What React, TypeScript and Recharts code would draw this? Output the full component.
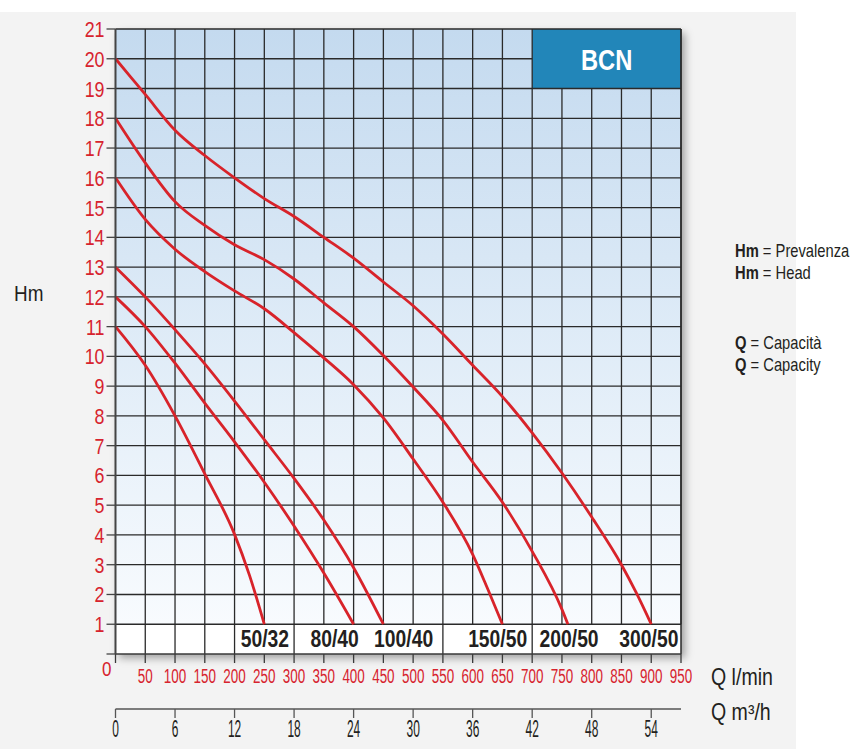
import {
  LineChart,
  Line,
  XAxis,
  YAxis,
  ReferenceLine,
  ReferenceArea,
  ReferenceDot,
} from "recharts";

// no narrow font installed, so Liberation Sans is squeezed horizontally
const FONT = "'Liberation Sans', Arial, sans-serif";
const RED = "#d7232e";
const INK = "#231f20";
const GRID = "#2a2a2a";
const CURVE = "#d8232a";

// axis ticks
const flowTicks = [
  0, 50, 100, 150, 200, 250, 300, 350, 400, 450, 500, 550, 600, 650, 700, 750,
  800, 850, 900, 950,
];
const m3Ticks = [0, 6, 12, 18, 24, 30, 36, 42, 48, 54];
const headTicks = [
  0, 1, 2, 3, 4, 5, 6, 7, 8, 9, 10, 11, 12, 13, 14, 15, 16, 17, 18, 19, 20, 21,
];

// pump curves, Q in l/min, H in m
const pumpNames = ["50/32", "80/40", "100/40", "150/50", "200/50", "300/50"];

const flow5032 = [0, 50, 100, 150, 200, 225, 250];
const head5032 = [11, 9.7, 8, 6.05, 4.02, 2.65, 1];

const flow8040 = [0, 50, 100, 150, 200, 250, 300, 350, 400];
const head8040 = [12, 11, 9.77, 8.43, 7.13, 5.77, 4.3, 2.72, 1];

const flow10040 = [0, 50, 100, 150, 200, 250, 300, 350, 400, 450];
const head10040 = [13, 12, 10.9, 9.75, 8.5, 7.2, 5.9, 4.5, 2.9, 1];

const flow15050 = [
  0, 50, 100, 150, 200, 250, 300, 350, 400, 450, 500, 550, 600, 625, 650,
];
const head15050 = [
  16, 14.6, 13.6, 12.85, 12.2, 11.6, 10.8, 9.95, 9.05, 7.93, 6.55, 5.1, 3.35,
  2.2, 1,
];

const flow20050 = [
  0, 50, 100, 150, 200, 250, 300, 350, 400, 450, 500, 550, 600, 650, 700, 750,
  760,
];
const head20050 = [
  18, 16.5, 15.2, 14.4, 13.75, 13.25, 12.6, 11.8, 11, 10.03, 8.97, 7.85, 6.45,
  5.1, 3.45, 1.5, 1,
];

const flow30050 = [
  0, 50, 100, 150, 200, 250, 300, 350, 400, 450, 500, 550, 600, 650, 700, 750,
  800, 850, 875, 900,
];
const head30050 = [
  20, 18.8, 17.6, 16.75, 16, 15.3, 14.7, 14, 13.3, 12.5, 11.7, 10.75, 9.7, 8.65,
  7.43, 6.08, 4.6, 3, 2.05, 1,
];

// where each pump name sits in the bottom strip
const labelFlow = [251, 368, 484, 642, 762, 896];
const labelHead = 0.5;

const flows = [flow5032, flow8040, flow10040, flow15050, flow20050, flow30050];
const heads = [head5032, head8040, head10040, head15050, head20050, head30050];

const series = pumpNames.map((name, i) => ({
  name,
  data: flows[i].map((q, j) => ({ q, h: heads[i][j] })),
}));

// the m3/h axis needs something bound to it before it draws its ticks
const m3Data = m3Ticks.map((m) => ({ q: m, h: null }));

// grid lines still visible in the white bottom strip
const stripLines = [50, 100, 150, 200, 300, 550, 700];

function Narrow({ x, y, sx = 0.82, size, fill = INK, anchor = "start", weight = 400, children }: any) {
  return (
    <g transform={`translate(${x},${y}) scale(${sx},1)`}>
      <text
        x={0}
        y={0}
        textAnchor={anchor}
        fontFamily={FONT}
        fontSize={size}
        fontWeight={weight}
        fill={fill}
      >
        {children}
      </text>
    </g>
  );
}

const FlowTick = (props: any) => {
  const { x, y, payload } = props;
  if (payload.value === 0) return <g />;
  return (
    <Narrow x={x} y={y + 18} sx={0.69} size={19.5} fill={RED} anchor="middle">
      {payload.value}
    </Narrow>
  );
};

const M3Tick = (props: any) => {
  const { x, y, payload } = props;
  return (
    <Narrow x={x} y={y + 17} sx={0.52} size={23} anchor="middle">
      {payload.value}
    </Narrow>
  );
};

const HeadTick = (props: any) => {
  const { x, y, payload } = props;
  if (payload.value === 0) {
    return (
      <Narrow x={x + 7} y={y + 22} sx={0.81} size={21} fill={RED} anchor="end">
        0
      </Narrow>
    );
  }
  return (
    <Narrow x={x} y={y + 8} sx={0.81} size={22} fill={RED} anchor="end">
      {payload.value}
    </Narrow>
  );
};

const PumpLabel = (props: any) => {
  const { viewBox, value } = props;
  const cx = viewBox.x + viewBox.width / 2;
  const cy = viewBox.y + viewBox.height / 2;
  return (
    <Narrow x={cx} y={cy + 8} sx={0.84} size={23} weight={700} anchor="middle">
      {value}
    </Narrow>
  );
};

const BoxLabel = (props: any) => {
  const { viewBox } = props;
  const cx = viewBox.x + viewBox.width / 2;
  const cy = viewBox.y + viewBox.height / 2;
  return (
    <Narrow x={cx} y={cy + 11} sx={0.79} size={30} weight={700} fill="#ffffff" anchor="middle">
      BCN
    </Narrow>
  );
};

export default function App() {
  return (
    <div
      style={{
        position: "absolute",
        left: 0,
        top: 0,
        width: 852,
        height: 749,
        background: "#fff",
        overflow: "hidden",
      }}
    >
      <div
        style={{
          position: "absolute",
          left: 0,
          top: 12,
          width: 796,
          height: 737,
          background: "#f3f3f3",
        }}
      />
      <div
        style={{
          position: "absolute",
          left: 115,
          top: 29,
          width: 566,
          height: 625,
          background: "#fff",
          boxShadow: "4px 4px 8px rgba(0,0,0,0.35)",
        }}
      />
      <svg width={0} height={0} style={{ position: "absolute" }}>
        <defs>
          <linearGradient id="plotBg" x1="0" y1="0" x2="0" y2="1">
            <stop offset="0%" stopColor="#c4daef" />
            <stop offset="50%" stopColor="#deebf7" />
            <stop offset="100%" stopColor="#f8fbfe" />
          </linearGradient>
        </defs>
      </svg>
      <div style={{ position: "absolute", left: 0, top: 0 }}>
        <LineChart
          width={852}
          height={749}
          margin={{ top: 29, right: 171, bottom: 10, left: 15.5 }}
        >
          <XAxis
            dataKey="q"
            type="number"
            domain={[0, 950]}
            ticks={flowTicks}
            interval={0}
            height={55}
            tickSize={9}
            tick={<FlowTick />}
            axisLine={{ stroke: "#3a3a3a", strokeWidth: 1.5 }}
            tickLine={{ stroke: "#3a3a3a", strokeWidth: 1.3 }}
          />
          <XAxis
            xAxisId="m3"
            dataKey="q"
            type="number"
            domain={[0, 57]}
            allowDataOverflow
            ticks={m3Ticks}
            interval={0}
            height={30}
            tickSize={9}
            tick={<M3Tick />}
            axisLine={{ stroke: "#555", strokeWidth: 1.5 }}
            tickLine={{ stroke: "#555", strokeWidth: 1.3 }}
          />
          <YAxis
            type="number"
            domain={[0, 21]}
            ticks={headTicks}
            interval={0}
            width={100}
            tickSize={9}
            tick={<HeadTick />}
            axisLine={{ stroke: "#444", strokeWidth: 2 }}
            tickLine={{ stroke: "#444", strokeWidth: 1.3 }}
          />

          <ReferenceArea x1={0} x2={950} y1={1} y2={21} fill="url(#plotBg)" fillOpacity={1} stroke="none" />
          <ReferenceArea x1={0} x2={950} y1={0} y2={1} fill="#ffffff" fillOpacity={1} stroke="none" />

          {headTicks
            .filter((h) => h >= 1)
            .map((h) => (
              <ReferenceLine
                key={"h" + h}
                segment={[
                  { x: 0, y: h },
                  { x: h === 20 ? 700 : 950, y: h },
                ]}
                stroke={GRID}
                strokeWidth={1.3}
              />
            ))}
          {flowTicks
            .filter((q) => q > 0)
            .map((q) => (
              <ReferenceLine
                key={"v" + q}
                segment={[
                  { x: q, y: 1 },
                  { x: q, y: q > 700 && q < 950 ? 19 : 21 },
                ]}
                stroke={GRID}
                strokeWidth={1.3}
              />
            ))}
          {stripLines.map((q) => (
            <ReferenceLine
              key={"s" + q}
              segment={[
                { x: q, y: 0 },
                { x: q, y: 1 },
              ]}
              stroke={GRID}
              strokeWidth={1.3}
            />
          ))}
          <ReferenceLine
            segment={[
              { x: 950, y: 0 },
              { x: 950, y: 21 },
            ]}
            stroke={GRID}
            strokeWidth={1.5}
          />

          <ReferenceArea
            x1={700}
            x2={950}
            y1={19}
            y2={21}
            fill="#2286b9"
            fillOpacity={1}
            stroke="none"
            label={<BoxLabel />}
          />

          <Line
            xAxisId="m3"
            data={m3Data}
            dataKey="h"
            stroke="none"
            dot={false}
            activeDot={false}
            legendType="none"
            isAnimationActive={false}
          />

          {series.map((s) => (
            <Line
              key={s.name}
              data={s.data}
              dataKey="h"
              type="monotone"
              stroke={CURVE}
              strokeWidth={2.8}
              dot={false}
              activeDot={false}
              isAnimationActive={false}
            />
          ))}

          {pumpNames.map((name, i) => (
            <ReferenceDot
              key={"l" + name}
              x={labelFlow[i]}
              y={labelHead}
              r={1}
              fill="none"
              stroke="none"
              label={<PumpLabel value={name} />}
            />
          ))}
        </LineChart>
      </div>
      <svg
        width={852}
        height={749}
        style={{ position: "absolute", left: 0, top: 0, pointerEvents: "none" }}
      >
        <Narrow x={14} y={301} sx={0.86} size={22}>
          Hm
        </Narrow>
        <Narrow x={711} y={685} sx={0.85} size={23}>
          Q l/min
        </Narrow>
        <Narrow x={711} y={720} sx={0.85} size={23}>
          Q m³/h
        </Narrow>
        <Narrow x={735} y={257} size={18}>
          <tspan fontWeight={700}>Hm</tspan> = Prevalenza
        </Narrow>
        <Narrow x={735} y={279} size={18}>
          <tspan fontWeight={700}>Hm</tspan> = Head
        </Narrow>
        <Narrow x={735} y={349} size={18}>
          <tspan fontWeight={700}>Q</tspan> = Capacità
        </Narrow>
        <Narrow x={735} y={371} size={18}>
          <tspan fontWeight={700}>Q</tspan> = Capacity
        </Narrow>
      </svg>
    </div>
  );
}
